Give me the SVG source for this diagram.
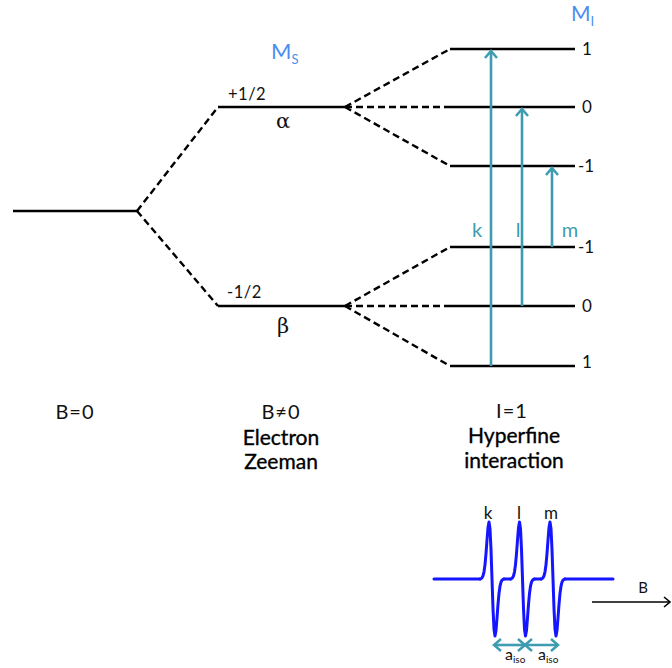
<svg xmlns="http://www.w3.org/2000/svg" xmlns:xlink="http://www.w3.org/1999/xlink" width="672" height="668" viewBox="0 0 672 668">
<style>
.lvl{stroke:#000;stroke-width:2.6;fill:none;stroke-linecap:butt}
.dash{stroke:#000;stroke-width:2.4;fill:none;stroke-dasharray:7 4}
.tr{stroke:#3d9cb0;stroke-width:2.6;fill:none}
.spec{stroke:#1515ff;stroke-width:3;fill:none;stroke-linejoin:round;stroke-linecap:round}
text{font-family:Lato,"Open Sans","Liberation Sans",sans-serif;fill:#111}
.blue{fill:#4b8ef0}
.teal{fill:#3d9cb0}
.gr{font-family:"DejaVu Serif","Liberation Serif",serif}
.cap{font-size:20px;text-anchor:middle;letter-spacing:1px}
.capb{font-size:21px;text-anchor:middle;fill:#000;stroke:#000;stroke-width:0.35px}
.ms{font-size:16.5px;letter-spacing:0.5px}
</style>
<defs>
<marker id="chev" viewBox="-10 -8 12 16" markerWidth="12" markerHeight="16" refX="0" refY="0" orient="auto-start-reverse" markerUnits="userSpaceOnUse">
<path d="M-7,-6 L0,0 L-7,6" fill="none" stroke="#3d9cb0" stroke-width="2.5"/>
</marker>
<marker id="chevk" viewBox="-10 -8 12 16" markerWidth="12" markerHeight="16" refX="0" refY="0" orient="auto" markerUnits="userSpaceOnUse">
<path d="M-6,-5 L0,0 L-6,5" fill="none" stroke="#000" stroke-width="1.6"/>
</marker>
<path id="peak" d="M-12,0 L-11,-0.4 L-10,-1.2 L-9,-3.1 L-8,-7.2 L-7,-14.4 L-6,-25.4 L-5,-39 L-4,-51.5 L-3,-57 L-2,-50.2 L-1,-29.6 L0,0 L1,29.6 L2,50.2 L3,57 L4,51.5 L5,39 L6,25.4 L7,14.4 L8,7.2 L9,3.1 L10,1.2 L11,0.4 L12,0"/>
</defs>

<g id="connectors">
<path class="dash" d="M137,211 L218,107"/>
<path class="dash" d="M137,211 L218,306"/>
<path class="dash" d="M345,107 L450,49"/>
<path class="dash" d="M345,107 L450,107"/>
<path class="dash" d="M345,107 L450,166"/>
<path class="dash" d="M345,306 L450,247"/>
<path class="dash" d="M345,306 L450,306"/>
<path class="dash" d="M345,306 L450,366"/>
</g>

<g id="level-b0"><path class="lvl" d="M13,211 H137"/></g>
<g id="level-alpha"><path class="lvl" d="M218,107 H345"/>
<text class="ms" x="228" y="100">+1/2</text>
<text class="gr" x="283" y="128" font-size="21" text-anchor="middle">α</text></g>
<g id="level-beta"><path class="lvl" d="M218,306 H345"/>
<text class="ms" x="227" y="298">-1/2</text>
<text class="gr" x="283" y="333" font-size="21" text-anchor="middle">β</text></g>

<g id="ms-label"><text class="blue" x="271" y="59" font-size="22">M<tspan font-size="13" dy="5">S</tspan></text></g>
<g id="mi-label"><text class="blue" x="571" y="21" font-size="21">M<tspan font-size="13" dy="5">I</tspan></text></g>

<g id="hf-a1"><path class="lvl" d="M450,49 H575"/><text x="582" y="55" font-size="17">1</text></g>
<g id="hf-a0"><path class="lvl" d="M450,107 H575"/><text x="582" y="113" font-size="17">0</text></g>
<g id="hf-am1"><path class="lvl" d="M450,166 H575"/><text x="578" y="172" font-size="17">-1</text></g>
<g id="hf-bm1"><path class="lvl" d="M450,247 H575"/><text x="578" y="253" font-size="17">-1</text></g>
<g id="hf-b0"><path class="lvl" d="M450,306 H575"/><text x="582" y="312" font-size="17">0</text></g>
<g id="hf-b1"><path class="lvl" d="M450,366 H575"/><text x="582" y="368" font-size="17">1</text></g>

<g id="transitions">
<path class="tr" d="M491,366 V51" marker-end="url(#chev)"/>
<path class="tr" d="M522,306 V109" marker-end="url(#chev)"/>
<path class="tr" d="M552,247 V168" marker-end="url(#chev)"/>
<text class="teal" x="477" y="237" font-size="20" text-anchor="middle">k</text>
<text class="teal" x="518" y="237" font-size="20" text-anchor="middle">l</text>
<text class="teal" x="570" y="237" font-size="20" text-anchor="middle">m</text>
</g>

<g id="captions">
<text class="cap" x="75" y="419">B=0</text>
<text class="cap" x="281" y="419">B≠0</text>
<text class="capb" x="281" y="445">Electron</text>
<text class="capb" x="281" y="469">Zeeman</text>
<text class="cap" x="512" y="418">I=1</text>
<text class="capb" x="514" y="443">Hyperfine</text>
<text class="capb" x="514" y="468">interaction</text>
</g>

<g id="spectrum">
<path class="spec" d="M434,579 H480 M504,579 H510.5 M534.5,579 H541 M565,579 H613"/>
<use xlink:href="#peak" class="spec" transform="translate(492,579)"/>
<use xlink:href="#peak" class="spec" transform="translate(522.5,579)"/>
<use xlink:href="#peak" class="spec" transform="translate(553,579)"/>
<text x="488" y="519" font-size="17" text-anchor="middle">k</text>
<text x="519" y="519" font-size="17" text-anchor="middle">l</text>
<text x="551" y="519" font-size="17" text-anchor="middle">m</text>
<path class="tr" d="M494,645 H525" marker-start="url(#chev)" marker-end="url(#chev)"/>
<path class="tr" d="M525,645 H558" marker-start="url(#chev)" marker-end="url(#chev)"/>
<text x="505" y="660" font-size="16">a<tspan font-size="10" dy="3">iso</tspan></text>
<text x="538" y="660" font-size="16">a<tspan font-size="10" dy="3">iso</tspan></text>
</g>

<g id="b-axis">
<path d="M592,602 H670" stroke="#000" stroke-width="1.6" fill="none" marker-end="url(#chevk)"/>
<text x="643" y="593" font-size="15" text-anchor="middle">B</text>
</g>
</svg>
